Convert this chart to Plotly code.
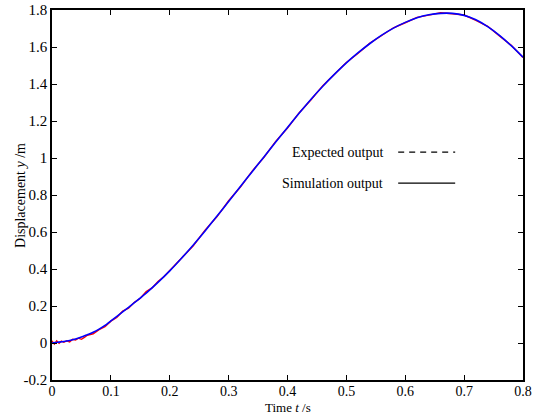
import plotly.graph_objects as go

# Simulation output (blue)
t_sim = [0.0, 0.005, 0.01, 0.02, 0.03, 0.04, 0.05, 0.06, 0.07, 0.08, 0.09, 0.10,
         0.12, 0.14, 0.16, 0.18, 0.20, 0.22, 0.24, 0.26, 0.28, 0.30, 0.32, 0.34,
         0.36, 0.38, 0.40, 0.42, 0.44, 0.46, 0.48, 0.50, 0.52, 0.54, 0.56, 0.58,
         0.60, 0.62, 0.64, 0.66, 0.68, 0.70, 0.72, 0.74, 0.76, 0.78, 0.80]
y_sim = [0.0, 0.002, 0.004, 0.008, 0.014, 0.022, 0.032, 0.045, 0.058, 0.075, 0.095, 0.12,
         0.168, 0.218, 0.27, 0.328, 0.39, 0.458, 0.53, 0.606, 0.685, 0.765, 0.846, 0.926,
         1.006, 1.086, 1.165, 1.243, 1.318, 1.388, 1.453, 1.514, 1.569, 1.619, 1.664, 1.702,
         1.733, 1.758, 1.774, 1.782, 1.782, 1.771, 1.747, 1.71, 1.663, 1.607, 1.545]

# Expected output (red)
t_exp = [0.0, 0.004, 0.008, 0.012, 0.016, 0.02, 0.025, 0.03, 0.035, 0.04, 0.045, 0.05,
         0.055, 0.06, 0.07, 0.08, 0.09, 0.10, 0.11, 0.12, 0.13, 0.14, 0.15, 0.16,
         0.17, 0.18, 0.19, 0.20, 0.22, 0.24, 0.26, 0.28, 0.30, 0.32, 0.34, 0.36,
         0.38, 0.40, 0.42, 0.44, 0.46, 0.48, 0.50, 0.52, 0.54, 0.56, 0.58, 0.60,
         0.62, 0.64, 0.66, 0.68, 0.70, 0.72, 0.74, 0.76, 0.78, 0.80]
y_exp = [0.012, -0.006, 0.012, -0.002, 0.01, 0.004, 0.012, 0.006, 0.02, 0.016, 0.026, 0.02,
         0.03, 0.042, 0.05, 0.072, 0.088, 0.118, 0.138, 0.172, 0.188, 0.22, 0.242, 0.278,
         0.298, 0.332, 0.358, 0.392, 0.462, 0.526, 0.61, 0.682, 0.769, 0.843, 0.929, 1.004,
         1.09, 1.162, 1.245, 1.315, 1.391, 1.451, 1.516, 1.566, 1.621, 1.662, 1.704, 1.731,
         1.76, 1.772, 1.785, 1.78, 1.773, 1.744, 1.712, 1.66, 1.609, 1.543]

x_ticks = [0, 0.1, 0.2, 0.3, 0.4, 0.5, 0.6, 0.7, 0.8]
x_tick_labels = ["0", "0.1", "0.2", "0.3", "0.4", "0.5", "0.6", "0.7", "0.8"]
y_ticks = [-0.2, 0, 0.2, 0.4, 0.6, 0.8, 1.0, 1.2, 1.4, 1.6, 1.8]
y_tick_labels = ["-0.2", "0", "0.2", "0.4", "0.6", "0.8", "1", "1.2", "1.4", "1.6", "1.8"]

FONT = "Liberation Serif, Times New Roman, serif"

fig = go.Figure()
fig.add_trace(go.Scatter(x=t_exp, y=y_exp, mode="lines",
                         line=dict(color="#ff0000", width=1.4), showlegend=False))
fig.add_trace(go.Scatter(x=t_sim, y=y_sim, mode="lines",
                         line=dict(color="#0000ff", width=1.6, shape="spline", smoothing=0.6),
                         showlegend=False))

axis_common = dict(showline=True, linecolor="black", linewidth=1.5, mirror="ticks",
                   ticks="inside", ticklen=5, tickwidth=1, tickcolor="black",
                   showgrid=False, zeroline=False, automargin=False)

fig.update_xaxes(range=[0, 0.8], tickvals=x_ticks, ticktext=x_tick_labels,
                 tickfont=dict(family=FONT, size=14, color="black"),
                 ticklabelstandoff=-3,
                 **axis_common)
fig.update_yaxes(range=[-0.2, 1.8], tickvals=y_ticks, ticktext=y_tick_labels,
                 tickfont=dict(family=FONT, size=15, color="black"),
                 **axis_common)

# axis titles
fig.add_annotation(xref="paper", yref="paper", x=0.5, y=-0.097, text="Time <i>t</i> /s",
                   showarrow=False, xanchor="center", yanchor="bottom", borderpad=0,
                   font=dict(family=FONT, size=13, color="black"))
fig.add_annotation(xref="paper", yref="paper", x=-0.068, y=0.5, text="Displacement <i>y</i> /m",
                   showarrow=False, xanchor="center", yanchor="middle", textangle=-90,
                   font=dict(family=FONT, size=14, color="black"))

# legend-like annotations
fig.add_annotation(xref="paper", yref="paper", x=0.707, y=0.616, text="Expected output",
                   showarrow=False, xanchor="right", yanchor="middle",
                   font=dict(family=FONT, size=14, color="black"))
fig.add_annotation(xref="paper", yref="paper", x=0.707, y=0.532, text="Simulation output",
                   showarrow=False, xanchor="right", yanchor="middle",
                   font=dict(family=FONT, size=14, color="black"))
fig.add_shape(type="line", xref="paper", yref="paper", x0=0.735, x1=0.856, y0=0.616, y1=0.616,
              line=dict(color="black", width=1.2, dash="6px,5px"))
fig.add_shape(type="line", xref="paper", yref="paper", x0=0.735, x1=0.856, y0=0.532, y1=0.532,
              line=dict(color="black", width=1.2))

fig.update_layout(width=539, height=416,
                  margin=dict(l=52, r=16, t=10, b=36, autoexpand=False),
                  plot_bgcolor="white", paper_bgcolor="white",
                  font=dict(family=FONT, color="black"))

fig.write_html("out.html")
